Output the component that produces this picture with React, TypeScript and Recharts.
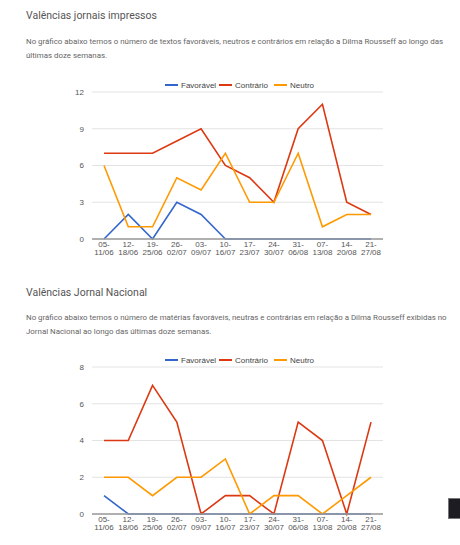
import React from "react";
import { LineChart, Line, XAxis, YAxis, CartesianGrid } from "recharts";

const WEEKS = [
  ["05-", "11/06"],
  ["12-", "18/06"],
  ["19-", "25/06"],
  ["26-", "02/07"],
  ["03-", "09/07"],
  ["10-", "16/07"],
  ["17-", "23/07"],
  ["24-", "30/07"],
  ["31-", "06/08"],
  ["07-", "13/08"],
  ["14-", "20/08"],
  ["21-", "27/08"],
];

// Jornais impressos
const IMP_FAVORAVEL = [0, 2, 0, 3, 2, 0, 0, 0, 0, 0, 0, 0];
const IMP_CONTRARIO = [7, 7, 7, 8, 9, 6, 5, 3, 9, 11, 3, 2];
const IMP_NEUTRO = [6, 1, 1, 5, 4, 7, 3, 3, 7, 1, 2, 2];
const IMP_TICKS = [0, 3, 6, 9, 12];

// Jornal Nacional
const JN_FAVORAVEL = [1, 0, 0, 0, 0, 0, 0, 0, 0, 0, 0, 0];
const JN_CONTRARIO = [4, 4, 7, 5, 0, 1, 1, 0, 5, 4, 0, 5];
const JN_NEUTRO = [2, 2, 1, 2, 2, 3, 0, 1, 1, 0, 1, 2];
const JN_TICKS = [0, 2, 4, 6, 8];

const SERIES = [
  { key: "fav", name: "Favorável", color: "#3366cc" },
  { key: "con", name: "Contrário", color: "#dc3912" },
  { key: "neu", name: "Neutro", color: "#ff9900" },
];

const CHART_FONT = "Arial, 'Liberation Sans', sans-serif";
const TEXT_FONT = "Roboto, 'Noto Sans', sans-serif";

const buildRows = (fav: number[], con: number[], neu: number[]) =>
  WEEKS.map((w, i) => ({ week: w.join(""), idx: i, fav: fav[i], con: con[i], neu: neu[i] }));

const WeekTick = (props: any) => {
  const { x, y, payload } = props;
  const parts = WEEKS[payload.index] || ["", ""];
  return (
    <text x={x} textAnchor="middle" fill="#555" fontSize={8} fontFamily={CHART_FONT}>
      <tspan x={x} y={y + 7.5}>{parts[0]}</tspan>
      <tspan x={x} y={y + 16}>{parts[1]}</tspan>
    </text>
  );
};

const LegendRow = ({ top }: { top: number }) => {
  const spots = [165, 219, 274];
  return (
    <>
      {SERIES.map((s, i) => (
        <div
          key={s.key}
          style={{
            position: "absolute",
            left: spots[i],
            top: top - 6,
            height: 12,
            display: "flex",
            alignItems: "center",
            fontFamily: CHART_FONT,
            fontSize: 8,
            color: "#444",
            whiteSpace: "nowrap",
          }}
        >
          <span style={{ display: "inline-block", width: 13, height: 2, background: s.color, marginRight: 3 }} />
          {s.name}
        </div>
      ))}
    </>
  );
};

const ValenceChart = ({ rows, max, ticks, top }: { rows: any[]; max: number; ticks: number[]; top: number }) => (
  <div style={{ position: "absolute", left: 0, top }}>
    <LineChart width={460} height={190} data={rows} margin={{ top: 12, right: 77, bottom: 1, left: 0 }}>
      <CartesianGrid vertical={false} stroke="#e3e3e3" />
      <YAxis
        width={92}
        domain={[0, max]}
        ticks={ticks}
        interval={0}
        axisLine={false}
        tickLine={false}
        tick={{ fill: "#555", fontSize: 8, fontFamily: CHART_FONT }}
      />
      <XAxis
        dataKey="week"
        interval={0}
        height={30}
        padding={{ left: 12, right: 12 }}
        axisLine={{ stroke: "#9a9a9a", strokeWidth: 1.5 }}
        tickLine={false}
        tickSize={0}
        tickMargin={0}
        tick={<WeekTick />}
      />
      {SERIES.map((s) => (
        <Line
          key={s.key}
          dataKey={s.key}
          name={s.name}
          stroke={s.color}
          strokeWidth={1.6}
          dot={false}
          activeDot={false}
          type="linear"
          isAnimationActive={false}
        />
      ))}
    </LineChart>
  </div>
);

const titleStyle: React.CSSProperties = {
  position: "absolute",
  left: 26,
  fontFamily: TEXT_FONT,
  fontSize: 10.5,
  color: "#555",
  whiteSpace: "nowrap",
};

const paraStyle: React.CSSProperties = {
  position: "absolute",
  left: 26,
  fontFamily: TEXT_FONT,
  fontSize: 7.9,
  lineHeight: "14px",
  color: "#666",
  whiteSpace: "nowrap",
};

export default function App() {
  const impRows = buildRows(IMP_FAVORAVEL, IMP_CONTRARIO, IMP_NEUTRO);
  const jnRows = buildRows(JN_FAVORAVEL, JN_CONTRARIO, JN_NEUTRO);
  return (
    <div style={{ position: "fixed", left: 0, top: 0, width: 460, height: 545, background: "#fff", overflow: "hidden" }}>
      <div style={{ ...titleStyle, top: 9 }}>Valências jornais impressos</div>
      <div style={{ ...paraStyle, top: 35 }}>
        No gráfico abaixo temos o número de textos favoráveis, neutros e contrários em relação a Dilma Rousseff ao longo das
        <br />
        últimas doze semanas.
      </div>
      <LegendRow top={85} />
      <ValenceChart rows={impRows} max={12} ticks={IMP_TICKS} top={80} />

      <div style={{ ...titleStyle, top: 286 }}>Valências Jornal Nacional</div>
      <div style={{ ...paraStyle, top: 311 }}>
        No gráfico abaixo temos o número de matérias favoráveis, neutras e contrárias em relação a Dilma Rousseff exibidas no
        <br />
        Jornal Nacional ao longo das últimas doze semanas.
      </div>
      <LegendRow top={360} />
      <ValenceChart rows={jnRows} max={8} ticks={JN_TICKS} top={355} />

      <div
        style={{
          position: "absolute",
          left: 448,
          top: 498,
          width: 14,
          height: 21,
          background: "#1c1c22",
          border: "1px solid #777",
          boxSizing: "border-box",
        }}
      />
    </div>
  );
}
